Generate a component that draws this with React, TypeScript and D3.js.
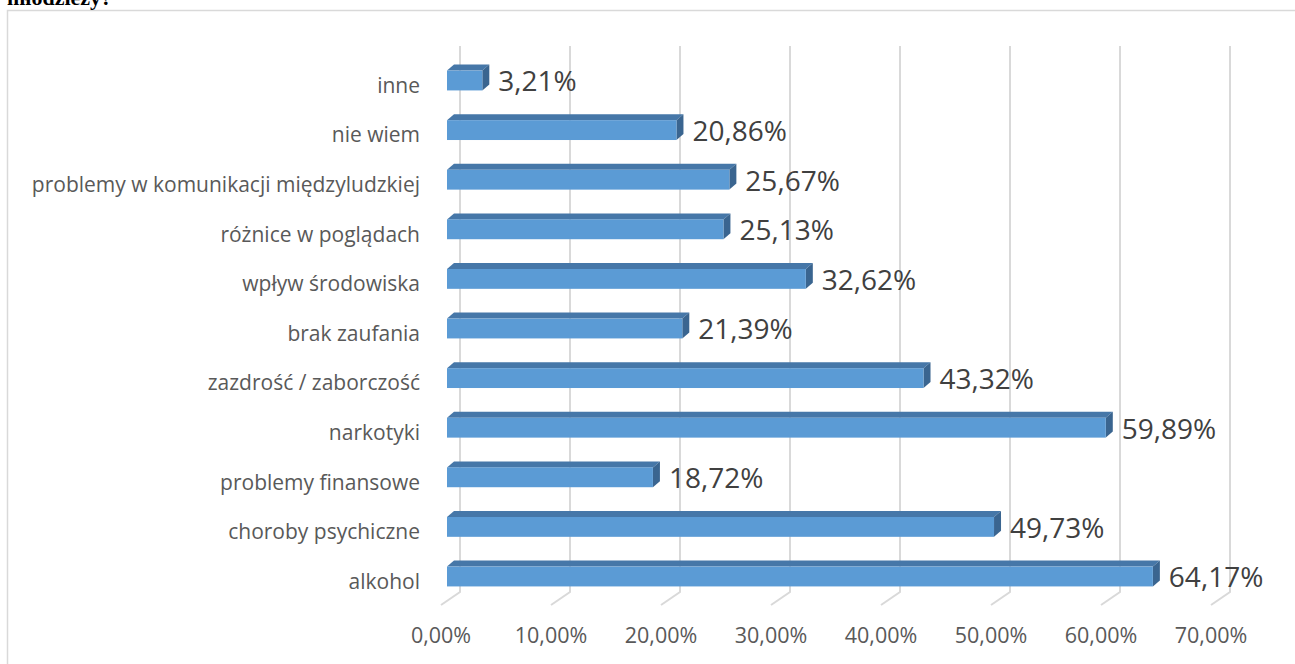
import { useEffect, useRef } from "react";
import * as d3 from "d3";

// categories top to bottom as they appear on the chart
const categories = [
  "inne",
  "nie wiem",
  "problemy w komunikacji międzyludzkiej",
  "różnice w poglądach",
  "wpływ środowiska",
  "brak zaufania",
  "zazdrość / zaborczość",
  "narkotyki",
  "problemy finansowe",
  "choroby psychiczne",
  "alkohol",
];
const values = [3.21, 20.86, 25.67, 25.13, 32.62, 21.39, 43.32, 59.89, 18.72, 49.73, 64.17];
const ticks = [0, 10, 20, 30, 40, 50, 60, 70];

const pl = d3.formatLocale({
  decimal: ",",
  thousands: " ",
  grouping: [3],
  currency: ["", " zł"],
});
const fmt = (v: number) => pl.format(".2f")(v) + "%";

export default function App() {
  const svgRef = useRef<SVGSVGElement>(null);

  useEffect(() => {
    const svg = d3.select(svgRef.current);
    svg.selectAll("*").remove();

    const W = 1295;
    const H = 664;
    const font = "'Open Sans', 'DejaVu Sans', sans-serif";

    // chart frame
    svg
      .append("rect")
      .attr("x", 7.5)
      .attr("y", 10.5)
      .attr("width", W)
      .attr("height", H)
      .attr("fill", "#fff")
      .attr("stroke", "#d9d9d9")
      .attr("stroke-width", 1.5);

    // leftover heading from the document, cut off at the top
    svg
      .append("text")
      .attr("x", 7)
      .attr("y", 5)
      .attr("font-family", "'Liberation Serif', serif")
      .attr("font-weight", "bold")
      .attr("font-size", 22)
      .text("młodzieży?");

    // back wall scale (gridlines) and front face scale (bars)
    const xBack = d3.scaleLinear().domain([0, 70]).range([460, 1230]);
    const xFront = d3.scaleLinear().domain([0, 70]).range([447, 1217]);
    const y = d3
      .scaleBand()
      .domain(categories)
      .range([55.7, 601.3])
      .paddingInner(0.6)
      .paddingOuter(0.3);

    const gridTop = 46;
    const gridBottom = 592;
    const floorDx = -19;
    const floorDy = 13;

    const grid = svg.append("g");
    ticks.forEach((t) => {
      const x = xBack(t);
      grid
        .append("path")
        .attr(
          "d",
          `M${x},${gridTop}L${x},${gridBottom}L${x + floorDx},${gridBottom + floorDy}`
        )
        .attr("fill", "none")
        .attr("stroke", "#d9d9d9")
        .attr("stroke-width", 2);
      svg
        .append("text")
        .attr("x", x + floorDx)
        .attr("y", 635)
        .attr("dy", "0.35em")
        .attr("text-anchor", "middle")
        .attr("font-family", font)
        .attr("font-size", 21.5)
        .attr("fill", "#595959")
        .text(pl.format(".2f")(t) + "%");
    });

    // 3D bars
    const dx = 7;
    const dy = -6;
    const bh = y.bandwidth();
    const bars = svg.append("g");
    categories.forEach((c, i) => {
      const v = values[i];
      const x0 = xFront(0);
      const x1 = xFront(v);
      const top = y(c)!;
      const bot = top + bh;
      // top face
      bars
        .append("path")
        .attr(
          "d",
          `M${x0},${top}L${x0 + dx},${top + dy}L${x1 + dx},${top + dy}L${x1},${top}Z`
        )
        .attr("fill", "#4677a8");
      // side face
      bars
        .append("path")
        .attr(
          "d",
          `M${x1},${top}L${x1 + dx},${top + dy}L${x1 + dx},${bot + dy}L${x1},${bot}Z`
        )
        .attr("fill", "#3a6590");
      // front face
      bars
        .append("rect")
        .attr("x", x0)
        .attr("y", top)
        .attr("width", x1 - x0)
        .attr("height", bh)
        .attr("fill", "#5b9bd5");

      // value label
      svg
        .append("text")
        .attr("x", x1 + dx + 9)
        .attr("y", top + bh / 2 + 1)
        .attr("dy", "0.35em")
        .attr("font-family", font)
        .attr("font-size", 28)
        .attr("fill", "#404040")
        .text(fmt(v));

      // category label
      svg
        .append("text")
        .attr("x", 420)
        .attr("y", top + bh / 2 + 5)
        .attr("dy", "0.35em")
        .attr("text-anchor", "end")
        .attr("font-family", font)
        .attr("font-size", 21)
        .attr("fill", "#595959")
        .text(c);
    });
  }, []);

  return (
    <svg
      ref={svgRef}
      width={1295}
      height={664}
      style={{ position: "absolute", left: 0, top: 0, display: "block" }}
    />
  );
}
